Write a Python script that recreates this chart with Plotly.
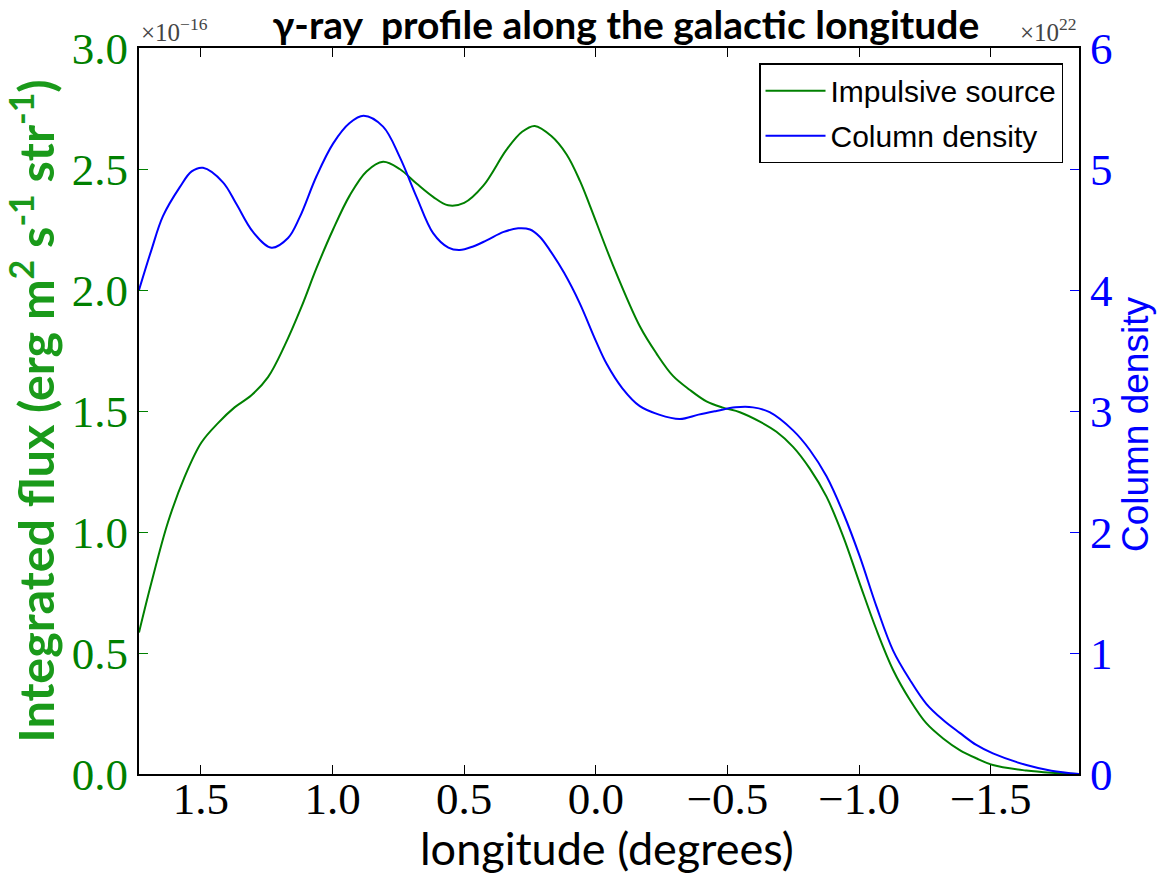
import plotly.graph_objects as go

# Galactic longitude samples (degrees) and the two profiles along them
lon_flux = [1.735, 1.688, 1.625, 1.561, 1.498, 1.435, 1.372, 1.308, 1.245, 1.182,
            1.118, 1.061, 0.998, 0.935, 0.871, 0.808, 0.745, 0.681, 0.618, 0.561,
            0.500, 0.428, 0.339, 0.280, 0.232, 0.170, 0.111, 0.060, 0.023, -0.066,
            -0.167, -0.230, -0.293, -0.356, -0.420, -0.483, -0.547, -0.623, -0.686,
            -0.749, -0.812, -0.876, -0.940, -1.002, -1.066, -1.129, -1.193, -1.255,
            -1.319, -1.382, -1.445, -1.508, -1.635, -1.730, -1.835]
flux = [0.585, 0.79, 1.04, 1.23, 1.37, 1.45, 1.515, 1.565, 1.64, 1.77,
        1.93, 2.09, 2.25, 2.39, 2.49, 2.53, 2.50, 2.44, 2.385, 2.35,
        2.36, 2.43, 2.58, 2.654, 2.678, 2.637, 2.56, 2.45, 2.35, 2.10,
        1.85, 1.738, 1.645, 1.588, 1.54, 1.514, 1.495, 1.456, 1.414,
        1.352, 1.263, 1.146, 0.98, 0.788, 0.595, 0.43, 0.306, 0.21,
        0.147, 0.099, 0.065, 0.037, 0.014, 0.005, 0.0]

lon_dens = [1.735, 1.688, 1.644, 1.580, 1.535, 1.492, 1.416, 1.365, 1.302, 1.232,
            1.169, 1.125, 1.061, 0.998, 0.935, 0.882, 0.808, 0.745, 0.681, 0.618,
            0.560, 0.517, 0.466, 0.415, 0.350, 0.295, 0.250, 0.213, 0.175, 0.120,
            0.061, 0.000, -0.041, -0.100, -0.167, -0.240, -0.319, -0.390, -0.458,
            -0.530, -0.597, -0.660, -0.749, -0.812, -0.876, -0.940, -1.002, -1.066,
            -1.129, -1.193, -1.255, -1.319, -1.382, -1.445, -1.508, -1.635, -1.730,
            -1.835]
density = [4.00, 4.33, 4.61, 4.85, 4.98, 5.01, 4.89, 4.71, 4.48, 4.35,
           4.43, 4.60, 4.94, 5.21, 5.38, 5.44, 5.35, 5.10, 4.77, 4.47,
           4.35, 4.33, 4.36, 4.41, 4.48, 4.51, 4.50, 4.44, 4.33, 4.14,
           3.89, 3.58, 3.39, 3.19, 3.04, 2.97, 2.934, 2.97, 3.00,
           3.03, 3.03, 2.99, 2.84, 2.68, 2.46, 2.155, 1.80, 1.383,
           1.02, 0.777, 0.58, 0.446, 0.34, 0.24, 0.17, 0.074, 0.027,
           0.0]

x_ticks = [1.5, 1.0, 0.5, 0.0, -0.5, -1.0, -1.5]
flux_ticks = [0.0, 0.5, 1.0, 1.5, 2.0, 2.5, 3.0]
dens_ticks = [0, 1, 2, 3, 4, 5, 6]

GREEN = "#008000"
BLUE = "#0000ff"
SERIF = "Liberation Serif"
TICK_SIZE = 45

fig = go.Figure()
fig.add_trace(go.Scatter(x=lon_flux, y=flux, mode="lines", name="Impulsive source",
                         legendgroup="flux",
                         line=dict(color=GREEN, width=2, shape="spline", smoothing=1.0),
                         yaxis="y"))
fig.add_trace(go.Scatter(x=lon_dens, y=density, mode="lines", name="Column density",
                         legendgroup="dens",
                         line=dict(color=BLUE, width=2, shape="spline", smoothing=1.0),
                         yaxis="y2"))

fig.update_layout(
    width=1157, height=876, autosize=False,
    margin=dict(l=139, r=78, t=48, b=102),
    paper_bgcolor="white", plot_bgcolor="white",
    showlegend=True,
    legend=dict(x=0.983, y=0.979, xanchor="right", yanchor="top",
                bordercolor="black", borderwidth=1.5, bgcolor="white",
                font=dict(family="Liberation Sans", size=30, color="black"),
                itemwidth=60, tracegroupgap=3),
    title=dict(text="<b>γ-ray  profile along the galactic longitude</b>",
               x=0.541, xanchor="center", y=0.9715, yanchor="middle",
               font=dict(family="Lato", size=39, color="black")),
    xaxis=dict(range=[1.735, -1.835], tickvals=x_ticks,
               tickformat=".1f", ticks="inside", ticklen=9, tickwidth=1.2,
               tickcolor="black", showline=True, linecolor="black", linewidth=2,
               mirror="ticks", showgrid=False, zeroline=False, automargin=False,
               ticklabelstandoff=-16,
               tickfont=dict(family=SERIF, size=TICK_SIZE, color="black")),
    yaxis=dict(range=[0, 3], tickvals=flux_ticks, tickformat=".1f",
               ticks="inside", ticklen=9, tickwidth=1.2, tickcolor=GREEN,
               showline=True, linecolor="black", linewidth=2, mirror=False,
               showgrid=False, zeroline=False, automargin=False,
               tickfont=dict(family=SERIF, size=TICK_SIZE, color=GREEN),
               title=dict(text="<b>Integrated flux (erg m<sup>2</sup> s<sup>-1</sup> str<sup>-1</sup>)</b>",
                          standoff=6,
                          font=dict(family="Lato", size=48.5, color="#1a9a1a"))),
    yaxis2=dict(range=[0, 6], tickvals=dens_ticks, overlaying="y", side="right",
                ticks="inside", ticklen=9, tickwidth=1.2, tickcolor=BLUE,
                showline=True, linecolor="black", linewidth=2,
                showgrid=False, zeroline=False, automargin=False,
                tickfont=dict(family=SERIF, size=TICK_SIZE, color=BLUE)),
)

# Bottom axis title
fig.add_annotation(text="longitude (degrees)", xref="paper", yref="paper",
                   x=0.498, y=-0.102, xanchor="center", yanchor="middle",
                   showarrow=False,
                   font=dict(family="Lato", size=45, color="black"))

# Right-hand axis title, set a little below the axis centre
fig.add_annotation(text="Column density", xref="paper", yref="paper",
                   x=1.0596, y=0.482, xanchor="center", yanchor="middle",
                   textangle=-90, showarrow=False,
                   font=dict(family="Liberation Sans", size=37, color=BLUE))

# Axis offset multipliers shown at the top corners of the frame
fig.add_annotation(text="×10<sup>−16</sup>", xref="paper", yref="paper",
                   x=0.0, y=1.0, xanchor="left", yanchor="bottom", showarrow=False,
                   font=dict(family=SERIF, size=25, color="#444444"))
fig.add_annotation(text="×10<sup>22</sup>", xref="paper", yref="paper",
                   x=1.0, y=1.0, xanchor="right", yanchor="bottom", showarrow=False,
                   font=dict(family=SERIF, size=25, color="#444444"))

fig.write_html("out.html")
